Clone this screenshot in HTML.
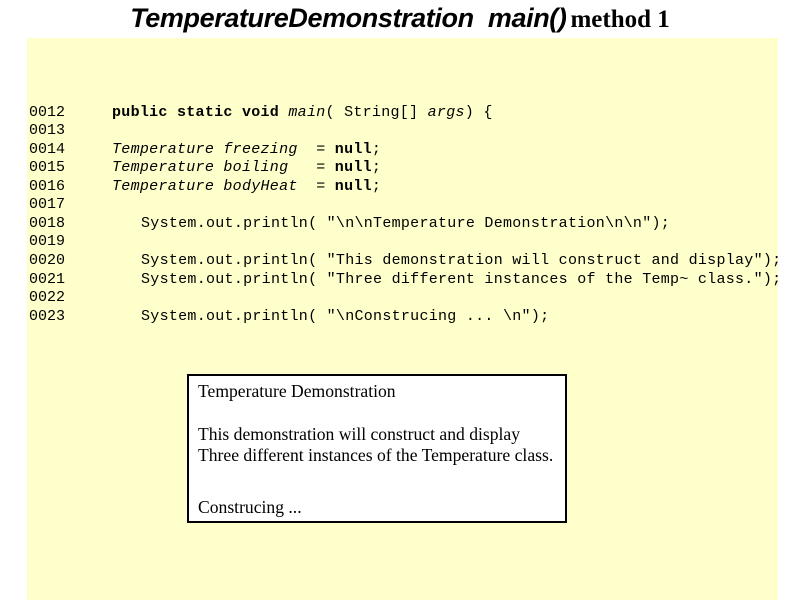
<!DOCTYPE html>
<html><head><style>
body{margin:0;width:800px;height:600px;background:#fff;position:relative;overflow:hidden}
.t{position:absolute;left:0;width:800px;top:3px;text-align:center;white-space:nowrap}
.t .a{font:italic bold 27px "Liberation Sans",sans-serif;letter-spacing:-0.4px}
.t .b{font:bold 25px "Liberation Serif",serif}
.bg{position:absolute;left:27px;top:38px;width:751px;height:562px;background:#ffffcc}
.l{position:absolute;font:15px "Liberation Mono",monospace;white-space:pre;line-height:18px;color:#000;letter-spacing:0.28px;top:0}
.n{left:29px;letter-spacing:0}
.box{position:absolute;left:187px;top:374px;width:376px;height:145px;border:2px solid #000;background:#fff;font:17.6px "Liberation Serif",serif}
.box div{position:absolute;left:9px;white-space:nowrap}
</style></head><body>
<div class="t"><span class="a">TemperatureDemonstration&nbsp; main()</span> <span class="b">method 1</span></div>
<div class="bg"></div>
<div class="l n" style="top:104px">0012</div><div class="l" style="top:104px;left:112px"><b>public static void</b> <i>main</i>( String[] <i>args</i>) {</div>
<div class="l n" style="top:122px">0013</div>
<div class="l n" style="top:141px">0014</div><div class="l" style="top:141px;left:112px"><i>Temperature freezing</i>  = <b>null</b>;</div>
<div class="l n" style="top:159px">0015</div><div class="l" style="top:159px;left:112px"><i>Temperature boiling</i>   = <b>null</b>;</div>
<div class="l n" style="top:178px">0016</div><div class="l" style="top:178px;left:112px"><i>Temperature bodyHeat</i>  = <b>null</b>;</div>
<div class="l n" style="top:196px">0017</div>
<div class="l n" style="top:215px">0018</div><div class="l" style="top:215px;left:141px">System.out.println( "\n\nTemperature Demonstration\n\n");</div>
<div class="l n" style="top:233px">0019</div>
<div class="l n" style="top:252px">0020</div><div class="l" style="top:252px;left:141px">System.out.println( "This demonstration will construct and display");</div>
<div class="l n" style="top:271px">0021</div><div class="l" style="top:271px;left:141px">System.out.println( "Three different instances of the Temp~ class.");</div>
<div class="l n" style="top:289px">0022</div>
<div class="l n" style="top:308px">0023</div><div class="l" style="top:308px;left:141px">System.out.println( "\nConstrucing ... \n");</div>
<div class="box">
<div style="top:5px">Temperature Demonstration</div>
<div style="top:48px">This demonstration will construct and display</div>
<div style="top:69px">Three different instances of the Temperature class.</div>
<div style="top:121px">Construcing ...</div>
</div>
</body></html>
